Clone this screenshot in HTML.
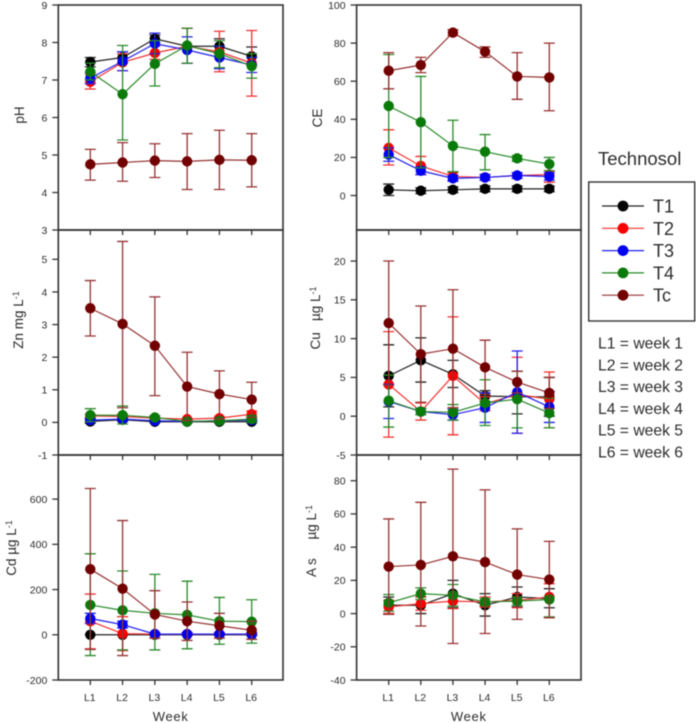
<!DOCTYPE html>
<html lang="en">
<head>
<meta charset="utf-8">
<title>Technosol leachate chart</title>
<style>
html,body{margin:0;padding:0;background:#fff;width:696px;height:723px;overflow:hidden}
svg{display:block;filter:blur(0.45px)}
text{font-family:"Liberation Sans",sans-serif;fill:#2c2c2c;white-space:pre}
</style>
</head>
<body>
<svg id="chart" xmlns="http://www.w3.org/2000/svg" width="696" height="723" viewBox="0 0 696 723"></svg>
<script>
const weeks = ["L1","L2","L3","L4","L5","L6"];

const phTicks = [3,4,5,6,7,8,9];
const phT1 = [7.48,7.6,8.1,7.9,7.9,7.63];
const phT1Up = [7.6,7.75,8.2,8.38,8.1,7.88];
const phT1Lo = [7.35,7.45,8.0,7.45,7.7,7.4];
const phT2 = [6.95,7.47,7.72,7.9,7.75,7.45];
const phT2Up = [7.15,7.7,7.9,8.38,8.3,8.32];
const phT2Lo = [6.76,7.25,7.55,7.45,7.22,6.57];
const phT3 = [7.05,7.5,7.97,7.8,7.6,7.4];
const phT3Up = [7.2,7.75,8.25,8.15,7.9,7.6];
const phT3Lo = [6.9,7.25,7.7,7.45,7.3,7.2];
const phT4 = [7.22,6.62,7.43,7.92,7.7,7.37];
const phT4Up = [7.45,7.92,8.05,8.38,8.05,7.7];
const phT4Lo = [7.0,5.4,6.84,7.45,7.33,7.05];
const phTc = [4.75,4.8,4.85,4.83,4.87,4.86];
const phTcUp = [5.15,5.33,5.3,5.57,5.66,5.57];
const phTcLo = [4.33,4.3,4.4,4.08,4.08,4.15];

const ceTicks = [0,20,40,60,80,100];
const ceT1 = [3,2.5,3,3.5,3.5,3.5];
const ceT1Up = [6,4,4.5,5,5,5];
const ceT1Lo = [0,1,1.5,2,2,2];
const ceT2 = [25,15.5,10,9.5,10.5,11];
const ceT2Up = [34.5,20.5,12,11,12,13];
const ceT2Lo = [16,11,8,8,9,7];
const ceT3 = [21.5,13,9,9.5,10.5,10];
const ceT3Up = [25,15,10.5,11,12,12];
const ceT3Lo = [18,11,7.5,8,9,8];
const ceT4 = [47,38.5,26,23,19.5,16.5];
const ceT4Up = [74,62.5,39.5,32,21,20];
const ceT4Lo = [20,14.5,12.5,13.5,18,13];
const ceTc = [65.5,68.5,85.5,75.5,62.5,62];
const ceTcUp = [75,72.5,87,78,75,80];
const ceTcLo = [56,64.5,84,72.5,50.5,44.5];

const znTicks = [-1,0,1,2,3,4,5];
const znT1 = [0.03,0.08,0.02,0.02,0.02,0.02];
const znT1Up = [0.08,0.13,0.05,0.05,0.05,0.05];
const znT1Lo = [-0.02,0.03,-0.01,-0.01,-0.01,-0.01];
const znT2 = [0.2,0.18,0.13,0.1,0.13,0.25];
const znT2Up = [0.25,0.25,0.2,0.12,0.18,0.35];
const znT2Lo = [0.15,0.12,0.08,0.08,0.08,0.15];
const znT3 = [0.07,0.1,0.05,0.03,0.05,0.07];
const znT3Up = [0.12,0.15,0.08,0.05,0.08,0.1];
const znT3Lo = [0.02,0.05,0.02,0.01,0.02,0.04];
const znT4 = [0.22,0.22,0.15,0.03,0.05,0.1];
const znT4Up = [0.42,0.5,0.2,0.05,0.1,0.2];
const znT4Lo = [0.02,-0.05,0.1,0,0,0];
const znTc = [3.5,3.02,2.35,1.1,0.87,0.7];
const znTcUp = [4.35,5.55,3.85,2.15,1.58,1.23];
const znTcLo = [2.65,0.45,0.82,0.05,0.1,0.15];

const cuTicks = [-5,0,5,10,15,20];
const cuT1 = [5.2,7.2,5.4,2.6,2.5,2.5];
const cuT1Up = [9.2,10.1,7.2,3.3,5.8,5];
const cuT1Lo = [1.2,4.4,3.7,1.9,0.3,0];
const cuT2 = [4.1,0.6,5.2,1.6,2.8,2.2];
const cuT2Up = [10.9,1.7,12.8,2.5,7.6,5.7];
const cuT2Lo = [-2.7,-0.5,-2.4,0.7,-2.2,-1.5];
const cuT3 = [1.9,0.6,0.2,1.1,3.1,1.2];
const cuT3Up = [4.1,1,0.9,3,8.4,3.2];
const cuT3Lo = [-0.3,0.2,-0.5,-0.8,-2.2,-0.8];
const cuT4 = [2,0.6,0.5,1.7,2.2,0.4];
const cuT4Up = [5.3,1,1.5,4.7,5.8,2.3];
const cuT4Lo = [-1.4,0.2,-0.5,-1.2,-1.5,-1.5];
const cuTc = [12,8,8.7,6.3,4.4,3];
const cuTcUp = [20,14.2,16.3,9.8,5.8,5];
const cuTcLo = [4,1.8,1.1,2.8,3,1];

const cdTicks = [-200,0,200,400,600];
const cdT1 = [0,0,0,0,0,0];
const cdT1Up = [0,0,0,0,0,0];
const cdT1Lo = [0,0,0,0,0,0];
const cdT2 = [60,5,3,3,3,3];
const cdT2Up = [180,80,10,10,10,10];
const cdT2Lo = [-62,-70,-3,-3,-3,-3];
const cdT3 = [72,45,3,3,3,3];
const cdT3Up = [95,60,8,8,8,8];
const cdT3Lo = [50,30,-2,-2,-2,-2];
const cdT4 = [132,108,95,88,60,58];
const cdT4Up = [358,282,267,237,165,155];
const cdT4Lo = [-92,-67,-67,-62,-42,-37];
const cdTc = [290,204,90,60,40,20];
const cdTcUp = [647,505,195,145,95,60];
const cdTcLo = [-65,-92,-15,-25,-15,-20];

const asTicks = [-40,-20,0,20,40,60,80];
const asT1 = [5,5,12,5,10,9];
const asT1Up = [10,10,20,12,16,15];
const asT1Lo = [0,0,3.5,-1.5,4,3.5];
const asT2 = [4,6,7.5,7,8,10];
const asT2Up = [8,10,12,10,12,18];
const asT2Lo = [0,2,3,4,3.5,-2.5];
const asT3 = [];
const asT3Up = [];
const asT3Lo = [];
const asT4 = [6.5,12,11,7,7.5,8.5];
const asT4Up = [11.5,15.5,17.5,9,10,10];
const asT4Lo = [1.5,8.5,4.5,5,5,-2];
const asTc = [28.3,29.3,34.5,31,23.5,20.5];
const asTcUp = [57,67,87,74.5,51,43.5];
const asTcLo = [-0.5,-7.5,-18,-12,-3.5,-2.5];

const seriesNames = ["T1","T2","T3","T4","Tc"];
const markerColors = ["#000000","#fa0000","#0000f0","#0a7a0a","#720000"];
const lineColors = ["#222222","#f03030","#2020f0","#2a8a2a","#963232"];

const svgNS = "http://www.w3.org/2000/svg";
const root = document.getElementById("chart");

function make(tag, attrs, parent) {
  const el = document.createElementNS(svgNS, tag);
  for (const k in attrs) el.setAttribute(k, attrs[k]);
  (parent || root).appendChild(el);
  return el;
}

const panels = [
  {id:"ph",col:0,row:0,domain:[3,9],ticks:phTicks,label:"pH",sup:"",lx:24,ly:115,
   data:[[phT1,phT1Up,phT1Lo],[phT2,phT2Up,phT2Lo],[phT3,phT3Up,phT3Lo],[phT4,phT4Up,phT4Lo],[phTc,phTcUp,phTcLo]]},
  {id:"ce",col:1,row:0,domain:[-18.1,100],ticks:ceTicks,label:"CE",sup:"",lx:322,ly:118,
   data:[[ceT1,ceT1Up,ceT1Lo],[ceT2,ceT2Up,ceT2Lo],[ceT3,ceT3Up,ceT3Lo],[ceT4,ceT4Up,ceT4Lo],[ceTc,ceTcUp,ceTcLo]]},
  {id:"zn",col:0,row:1,domain:[-1,5.9],ticks:znTicks,label:"Zn mg L",sup:"-1",lx:23,ly:320,
   data:[[znT1,znT1Up,znT1Lo],[znT2,znT2Up,znT2Lo],[znT3,znT3Up,znT3Lo],[znT4,znT4Up,znT4Lo],[znTc,znTcUp,znTcLo]]},
  {id:"cu",col:1,row:1,domain:[-5,24],ticks:cuTicks,label:"Cu   \u00b5g L",sup:"-1",lx:320,ly:318,
   data:[[cuT1,cuT1Up,cuT1Lo],[cuT2,cuT2Up,cuT2Lo],[cuT3,cuT3Up,cuT3Lo],[cuT4,cuT4Up,cuT4Lo],[cuTc,cuTcUp,cuTcLo]]},
  {id:"cd",col:0,row:2,domain:[-200,795],ticks:cdTicks,label:"Cd \u00b5g L",sup:"-1",lx:16,ly:548,
   data:[[cdT1,cdT1Up,cdT1Lo],[cdT2,cdT2Up,cdT2Lo],[cdT3,cdT3Up,cdT3Lo],[cdT4,cdT4Up,cdT4Lo],[cdTc,cdTcUp,cdTcLo]]},
  {id:"as",col:1,row:2,domain:[-40,95.5],ticks:asTicks,label:"A s     \u00b5g L",sup:"-1",lx:316,ly:541,
   data:[[asT1,asT1Up,asT1Lo],[asT2,asT2Up,asT2Lo],[asT3,asT3Up,asT3Lo],[asT4,asT4Up,asT4Lo],[asTc,asTcUp,asTcLo]]}
];

panels.forEach(function (p) {
  const left = p.col === 0 ? 58.3 : 356.6;
  const right = p.col === 0 ? 283 : 581;
  const top = 5 + p.row * 225;
  const bottom = top + 225;
  const firstX = p.col === 0 ? 90.3 : 388.7;
  const stepX = p.col === 0 ? 32.28 : 32.12;
  const xOf = function (i) { return firstX + i * stepX; };
  const yOf = function (v) { return bottom - (v - p.domain[0]) / (p.domain[1] - p.domain[0]) * 225; };

  const g = make("g", {});
  
  

  const frame = make("rect", {x:left,y:top,width:right-left,height:225,fill:"none",stroke:"#333","stroke-width":1.6}, g);
  
  

  p.ticks.forEach(function (t) {
    const y = yOf(t);
    const tick = make("line", {x1:left-6,x2:left,y1:y,y2:y,stroke:"#333","stroke-width":1.3}, g);
    
    
    const lab = make("text", {x:left-11,y:y+3.8,"text-anchor":"end","font-size":10.5}, g);
    lab.textContent = String(t);
    
    
  });

  weeks.forEach(function (w, i) {
    const x = xOf(i);
    const tick = make("line", {x1:x,x2:x,y1:bottom,y2:bottom+5,stroke:"#333","stroke-width":1.3}, g);
    
    
    if (p.row === 2) {
      const lab = make("text", {x:x-0.5,y:bottom+21,"text-anchor":"middle","font-size":10.5}, g);
      lab.textContent = w;
      
      
    }
  });

  const yTitle = make("text", {transform:"translate(" + p.lx + "," + p.ly + ") rotate(-90)","text-anchor":"middle","font-size":13.5}, g);
  
  
  const main = make("tspan", {}, yTitle);
  main.textContent = p.label;
  if (p.sup) {
    const sup = make("tspan", {dy:-4,"font-size":9}, yTitle);
    sup.textContent = p.sup;
  }

  if (p.row === 2) {
    const xTitle = make("text", {x:(left+right)/2,y:bottom+41,"text-anchor":"middle","font-size":13,"letter-spacing":"0.7"}, g);
    xTitle.textContent = "Week";
    
    
  }

  p.data.forEach(function (d, s) {
    const vals = d[0], ups = d[1], los = d[2];
    if (!vals.length) return;
    const sg = make("g", {}, g);
    
    
    vals.forEach(function (v, i) {
      const x = xOf(i);
      const yu = yOf(ups[i]);
      const yl = yOf(los[i]);
      const bar = make("path", {d:"M"+x+" "+yu+"V"+yl+"M"+(x-5.5)+" "+yu+"H"+(x+5.5)+"M"+(x-5.5)+" "+yl+"H"+(x+5.5),fill:"none",stroke:lineColors[s],"stroke-width":1.3}, sg);
      
      
    });
    const pts = vals.map(function (v, i) { return xOf(i) + "," + yOf(v); }).join(" ");
    const line = make("polyline", {points:pts,fill:"none",stroke:lineColors[s],"stroke-width":1.2}, sg);
    
    
    vals.forEach(function (v, i) {
      const dot = make("circle", {cx:xOf(i),cy:yOf(v),r:5.2,fill:markerColors[s]}, sg);
      
      
    });
  });
});

const title = make("text", {x:598,y:165,"font-size":18.5}, root);
title.textContent = "Technosol";



const box = make("rect", {x:588.7,y:182,width:106,height:139,fill:"none",stroke:"#333","stroke-width":1.4}, root);



seriesNames.forEach(function (n, i) {
  const y = 206 + i * 22.3;
  const g = make("g", {}, root);
  
  
  make("line", {x1:602,x2:644,y1:y,y2:y,stroke:lineColors[i],"stroke-width":1.2}, g);
  make("circle", {cx:623,cy:y,r:5.4,fill:markerColors[i]}, g);
  const t = make("text", {x:653,y:y+6.5,"font-size":18}, g);
  t.textContent = n;
});

const weekNotes = ["L1 = week 1","L2 = week 2","L3 = week 3","L4 = week 4","L5 = week 5","L6 = week 6"];
weekNotes.forEach(function (n, i) {
  const t = make("text", {x:598,y:348.5 + i * 21.8,"font-size":15.7}, root);
  t.textContent = n;
  
  
});
</script>
</body>
</html>
